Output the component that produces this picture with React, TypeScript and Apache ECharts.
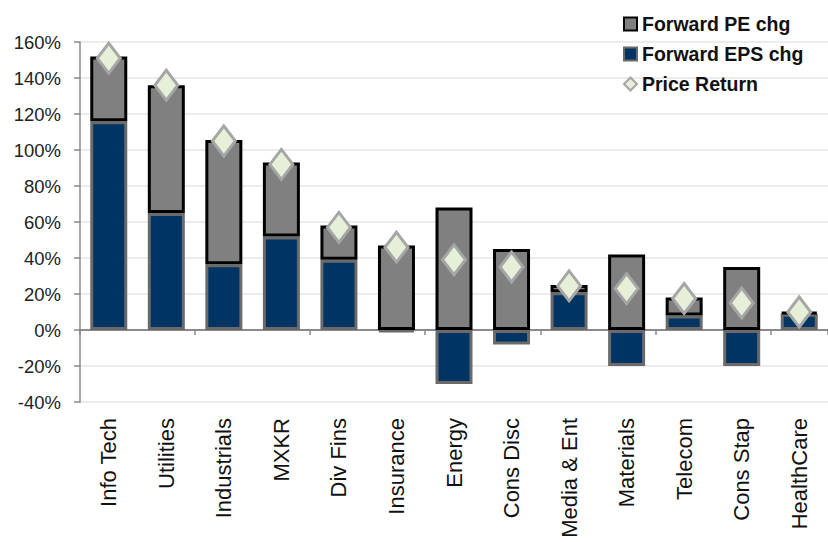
import React, { useEffect, useRef } from "react";
import * as echarts from "echarts";

const categories = [
  "Info Tech", "Utilities", "Industrials", "MXKR", "Div Fins", "Insurance",
  "Energy", "Cons Disc", "Media & Ent", "Materials", "Telecom", "Cons Stap", "HealthCare",
];
const forwardEpsChg = [116, 65, 36.5, 52, 39, -1, -30, -8, 21, -20, 8, -20, 9];
const forwardPeChg = [36, 71, 69, 41, 19, 47, 68, 45, 4, 42, 10, 35, 1];
const priceReturn = [151, 136, 105, 92, 57, 46, 39, 35, 24.5, 23, 17.5, 15, 10];
const yTicks = [-40, 160, 20];

const NAVY = "#003462";
const GRAY = "#808080";

export default function App() {
  const ref = useRef<HTMLDivElement>(null);
  useEffect(() => {
    if (!ref.current) return;
    const chart = echarts.init(ref.current, undefined, { renderer: "svg" });
    const font = "'Liberation Sans', Arial, sans-serif";
    chart.setOption({
      animation: false,
      backgroundColor: "#ffffff",
      textStyle: { fontFamily: font },
      grid: { left: 80, right: -2, top: 42, bottom: 140, containLabel: false },
      legend: {
        orient: "vertical",
        left: 618,
        top: 9,
        itemGap: 10,
        itemWidth: 13,
        itemHeight: 13,
        textStyle: { fontFamily: font, fontSize: 19.5, fontWeight: "bold", color: "#111" },
        data: [
          { name: "Forward PE chg", icon: "rect" },
          { name: "Forward EPS chg", icon: "rect" },
          { name: "Price Return", icon: "diamond", itemStyle: { borderWidth: 2 } },
        ],
      },
      xAxis: [
        {
          type: "category",
          data: categories,
          axisLine: { onZero: true, lineStyle: { color: "#8a8a8a", width: 2 } },
          axisTick: { show: true, length: 5, lineStyle: { color: "#8a8a8a", width: 1.5 } },
          axisLabel: { show: false },
        },
        {
          type: "category",
          data: categories,
          position: "bottom",
          axisLine: { show: false, onZero: false },
          axisTick: { show: false },
          axisLabel: {
            rotate: 90,
            margin: 16,
            fontSize: 22,
            color: "#111",
            fontFamily: font,
            interval: 0,
          },
        },
      ],
      yAxis: {
        type: "value",
        min: yTicks[0],
        max: yTicks[1],
        interval: yTicks[2],
        axisLine: { show: true, lineStyle: { color: "#8a8a8a", width: 1.5 } },
        axisTick: { show: true, length: 6, lineStyle: { color: "#8a8a8a", width: 1.5 } },
        axisLabel: { formatter: "{value}%", fontSize: 18.5, color: "#222", margin: 19, fontFamily: font },
        splitLine: { lineStyle: { color: "#e6e6e6", width: 1.5 } },
      },
      series: [
        {
          name: "Forward EPS chg",
          type: "bar",
          stack: "total",
          barWidth: 37,
          data: forwardEpsChg,
          itemStyle: { color: NAVY, borderColor: "#6a6a6a", borderWidth: 3 },
        },
        {
          name: "Forward PE chg",
          type: "bar",
          stack: "total",
          barWidth: 37,
          data: forwardPeChg,
          itemStyle: { color: GRAY, borderColor: "#000000", borderWidth: 3 },
        },
        {
          name: "Price Return",
          type: "scatter",
          data: priceReturn,
          symbol: "diamond",
          symbolSize: [23, 30],
          itemStyle: { color: "#e6f0d8", borderColor: "#a6a6a6", borderWidth: 3, opacity: 1 },
          z: 5,
        },
      ],
    });
    return () => chart.dispose();
  }, []);
  return (
    <div
      ref={ref}
      style={{ position: "fixed", left: 0, top: 0, width: 828, height: 542 }}
    />
  );
}
